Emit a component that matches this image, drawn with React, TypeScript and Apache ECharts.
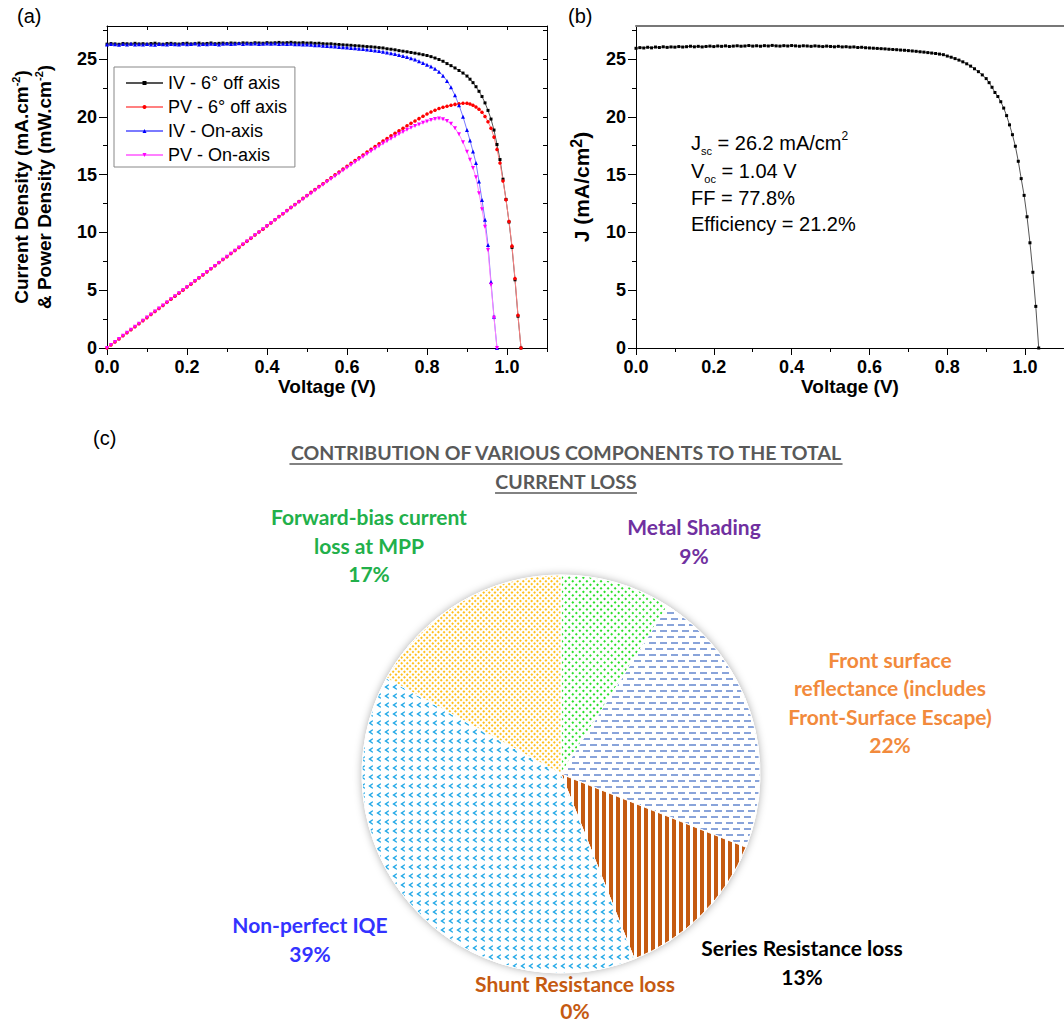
import React, { useEffect, useRef } from "react";
import * as echarts from "echarts";

// ---------------- data ----------------
const voltage = [
  0.0, 0.01, 0.02, 0.03, 0.04, 0.05, 0.06, 0.07, 0.08, 0.09,
  0.1, 0.11, 0.12, 0.13, 0.14, 0.15, 0.16, 0.17, 0.18, 0.19,
  0.2, 0.21, 0.22, 0.23, 0.24, 0.25, 0.26, 0.27, 0.28, 0.29,
  0.3, 0.31, 0.32, 0.33, 0.34, 0.35, 0.36, 0.37, 0.38, 0.39,
  0.4, 0.41, 0.42, 0.43, 0.44, 0.45, 0.46, 0.47, 0.48, 0.49,
  0.5, 0.51, 0.52, 0.53, 0.54, 0.55, 0.56, 0.57, 0.58, 0.59,
  0.6, 0.61, 0.62, 0.63, 0.64, 0.65, 0.66, 0.67, 0.68, 0.69,
  0.7, 0.71, 0.72, 0.73, 0.74, 0.75, 0.76, 0.77, 0.78, 0.79,
  0.8, 0.81, 0.82, 0.83, 0.84, 0.85, 0.86, 0.87, 0.88, 0.89,
  0.9, 0.9075, 0.915, 0.9225, 0.93, 0.9375, 0.945, 0.9525, 0.96, 0.9675,
  0.975, 0.9825, 0.99, 0.9975, 1.005, 1.0125, 1.02, 1.0275, 1.035,
];

const ivOffAxis = [
  26.28, 26.33, 26.3, 26.27, 26.34, 26.31, 26.29, 26.35, 26.3, 26.32,
  26.28, 26.33, 26.36, 26.3, 26.27, 26.33, 26.35, 26.31, 26.29, 26.34,
  26.36, 26.3, 26.33, 26.37, 26.31, 26.34, 26.38, 26.32, 26.35, 26.37,
  26.33, 26.38, 26.36, 26.34, 26.39, 26.37, 26.35, 26.4, 26.38, 26.36,
  26.41, 26.38, 26.4, 26.43, 26.39, 26.41, 26.44, 26.4, 26.38, 26.41,
  26.37, 26.39, 26.35, 26.36, 26.32, 26.3, 26.31, 26.27, 26.25, 26.22,
  26.2, 26.18, 26.15, 26.13, 26.1, 26.07, 26.05, 26.02, 25.98, 25.95,
  25.88, 25.84, 25.79, 25.72, 25.67, 25.62, 25.56, 25.5, 25.44, 25.37,
  25.3, 25.2, 25.08, 24.95, 24.8, 24.6, 24.42, 24.22, 24.0, 23.78,
  23.52, 23.25, 22.95, 22.6, 22.2, 21.75, 21.2, 20.55, 19.8, 18.85,
  17.6, 16.3, 14.6, 12.85, 10.9, 8.7, 5.9, 2.75, 0.0,
];

const pvOffAxis = [
  0, 0.263, 0.527, 0.789, 1.054, 1.316, 1.577, 1.845, 2.104, 2.369,
  2.628, 2.896, 3.163, 3.419, 3.678, 3.95, 4.216, 4.473, 4.732, 5.005,
  5.272, 5.523, 5.793, 6.065, 6.314, 6.585, 6.859, 7.116, 7.386, 7.647,
  7.899, 8.178, 8.436, 8.692, 8.973, 9.23, 9.487, 9.768, 10.024, 10.28,
  10.564, 10.816, 11.088, 11.365, 11.612, 11.885, 12.162, 12.408, 12.662, 12.941,
  13.185, 13.459, 13.702, 13.971, 14.213, 14.465, 14.734, 14.974, 15.225, 15.47,
  15.72, 15.97, 16.21, 16.46, 16.7, 16.95, 17.19, 17.43, 17.67, 17.91,
  18.12, 18.35, 18.57, 18.78, 19.0, 19.22, 19.43, 19.64, 19.84, 20.04,
  20.24, 20.41, 20.57, 20.71, 20.83, 20.91, 21.0, 21.07, 21.12, 21.16,
  21.17, 21.1, 21.0, 20.85, 20.65, 20.39, 20.03, 19.57, 19.01, 18.24,
  17.16, 16.01, 14.45, 12.82, 10.95, 8.81, 6.02, 2.83, 0,
];

const ivOnAxis = [
  26.25, 26.3, 26.27, 26.22, 26.29, 26.26, 26.31, 26.24, 26.28, 26.25,
  26.3, 26.26, 26.23, 26.29, 26.27, 26.24, 26.3, 26.28, 26.25, 26.31,
  26.27, 26.29, 26.33, 26.26, 26.3, 26.28, 26.32, 26.29, 26.26, 26.31,
  26.33, 26.29, 26.32, 26.35, 26.3, 26.33, 26.31, 26.34, 26.3, 26.32,
  26.34, 26.31, 26.33, 26.3, 26.32, 26.29, 26.31, 26.27, 26.28, 26.25,
  26.24, 26.22, 26.19, 26.18, 26.15, 26.12, 26.1, 26.07, 26.04, 26.01,
  25.98, 25.95, 25.92, 25.88, 25.85, 25.81, 25.77, 25.73, 25.68, 25.63,
  25.56, 25.49, 25.42, 25.34, 25.25, 25.16, 25.06, 24.95, 24.8, 24.66,
  24.5, 24.35, 24.15, 23.9, 23.55, 23.1, 22.55, 21.85, 21.0, 20.0,
  18.85, 17.95, 17.0, 16.0, 14.4, 12.8, 11.1, 8.9, 5.7, 2.7,
  0.0,
];

const pvOnAxis = [
  0, 0.263, 0.525, 0.787, 1.052, 1.313, 1.579, 1.837, 2.102, 2.363,
  2.63, 2.889, 3.148, 3.418, 3.678, 3.936, 4.208, 4.468, 4.725, 4.999,
  5.254, 5.521, 5.793, 6.04, 6.312, 6.57, 6.843, 7.098, 7.353, 7.63,
  7.899, 8.15, 8.422, 8.696, 8.942, 9.216, 9.472, 9.746, 9.994, 10.265,
  10.536, 10.787, 11.059, 11.309, 11.581, 11.831, 12.103, 12.347, 12.614, 12.863,
  13.12, 13.37, 13.62, 13.88, 14.12, 14.37, 14.62, 14.86, 15.1, 15.35,
  15.59, 15.83, 16.07, 16.3, 16.54, 16.78, 17.01, 17.24, 17.46, 17.68,
  17.89, 18.1, 18.3, 18.5, 18.69, 18.87, 19.05, 19.21, 19.34, 19.48,
  19.6, 19.72, 19.8, 19.84, 19.78, 19.64, 19.39, 19.01, 18.48, 17.8,
  16.97, 16.29, 15.56, 14.76, 13.39, 12.0, 10.49, 8.48, 5.47, 2.61,
  0,
];

const jCell = [
  25.92, 25.98, 25.95, 26.01, 25.96, 26.03, 25.99, 26.05, 26.0, 26.04,
  26.02, 26.07, 26.03, 26.06, 26.1, 26.05, 26.09, 26.04, 26.08, 26.11,
  26.07, 26.12, 26.09, 26.13, 26.08, 26.11, 26.14, 26.1, 26.12, 26.16,
  26.11, 26.14, 26.1, 26.15, 26.12, 26.17, 26.13, 26.11, 26.15, 26.12,
  26.16, 26.13, 26.1, 26.14, 26.12, 26.09, 26.13, 26.1, 26.07, 26.11,
  26.08, 26.05, 26.09, 26.04, 26.06, 26.02, 26.04, 25.99, 26.01, 25.97,
  25.95, 25.93, 25.91, 25.89, 25.87, 25.84, 25.82, 25.8, 25.77, 25.75,
  25.72, 25.69, 25.66, 25.62, 25.59, 25.55, 25.51, 25.47, 25.42, 25.37,
  25.25, 25.15, 25.03, 24.9, 24.75, 24.58, 24.38, 24.15, 23.9, 23.62,
  23.3, 22.95, 22.55, 22.1, 21.75, 21.3, 20.75, 20.1, 19.3, 18.45,
  17.45, 16.15, 14.65, 13.2, 11.35, 9.1, 6.55, 3.6, 0.0,
];

const legendNames = ["IV - 6\u00b0 off axis", "PV - 6\u00b0 off axis", "IV - On-axis", "PV - On-axis"];

const xMajorTicks = [0, 0.2, 0.4, 0.6, 0.8, 1.0];
const xMinorTicks = [0.1, 0.3, 0.5, 0.7, 0.9, 1.1];
const xAllTicks = [0, 0.1, 0.2, 0.3, 0.4, 0.5, 0.6, 0.7, 0.8, 0.9, 1.0, 1.1];
const yMajorTicks = [0, 5, 10, 15, 20, 25];
const yMinorTicks = [2.5, 7.5, 12.5, 17.5, 22.5, 27.5];
const yAllTicks = [0, 2.5, 5, 7.5, 10, 12.5, 15, 17.5, 20, 22.5, 25, 27.5];

const metricSymbols = ["J", "V", "FF", "Efficiency"];
const metricSubs = ["sc", "oc", "", ""];
const metricValues = ["26.2", "1.04", "77.8", "21.2"];
const metricUnits = [" mA/cm", " V", "%", "%"];
const metricSups = ["2", "", "", ""];

const pieTitleLines = ["CONTRIBUTION OF VARIOUS COMPONENTS TO THE TOTAL", "CURRENT LOSS"];
const lossNames = [
  "Metal Shading",
  "Front surface reflectance (includes Front-Surface Escape)",
  "Series Resistance loss",
  "Shunt Resistance loss",
  "Non-perfect IQE",
  "Forward-bias current loss at MPP",
];
const lossLabelLines = [
  ["Metal Shading"],
  ["Front surface", "reflectance (includes", "Front-Surface Escape)"],
  ["Series Resistance loss"],
  ["Shunt Resistance loss"],
  ["Non-perfect IQE"],
  ["Forward-bias current", "loss at MPP"],
];
const lossPercent = [9, 22, 13, 0, 39, 17];
const lossLabelColors = ["#7030a0", "#f28a3c", "#000000", "#c55a11", "#3333ff", "#22b04a"];

// ---------------- layout / style ----------------
const FONT = '"Liberation Sans", Arial, sans-serif';
const PIE_FONT = 'Lato, "Open Sans", sans-serif';
const PIE_CENTER = [561, 774];
const PIE_RADIUS = 199;
const lossLabelPos = [
  [694, 541],
  [890, 702],
  [802, 962],
  [575, 997],
  [310, 939],
  [369, 545],
];
const lossLabelLineHeight = [28.5, 28.5, 28.5, 27, 28.5, 28.5];
const sliceDecals = [
  { symbol: "rect", symbolSize: 1, dashArrayX: [1.7, 2.3], dashArrayY: [1.7, 2.3], rotation: Math.PI / 4, color: "rgba(20,220,20,0.9)" },
  { symbol: "rect", symbolSize: 1, dashArrayX: [[7, 4], [3, 4, 4, 0]], dashArrayY: [1.7, 3.3], color: "#89a4da" },
  { symbol: "rect", symbolSize: 1, dashArrayX: [4, 3], dashArrayY: [1, 0], color: "#c55a11" },
  { symbol: "rect", symbolSize: 1, dashArrayX: [4, 3], dashArrayY: [1, 0], color: "#c55a11" },
  { symbol: "path://M6,0 L0,4 L6,8 L6,5.8 L3.2,4 L6,2.2 Z", symbolSize: 1, dashArrayX: [4.5, 2.5], dashArrayY: [5.5, 2.5], color: "#22a8e6" },
  { symbol: "rect", symbolSize: 1, dashArrayX: [1.8, 1.3], dashArrayY: [1.8, 1.3], rotation: Math.PI / 4, color: "rgba(255,188,20,0.95)" },
];

const tickLabel = { fontFamily: FONT, fontWeight: "bold" as const, fontSize: 18, color: "#000" };
const blackLine = { show: true, onZero: false, lineStyle: { color: "#000", width: 1 } };

function buildOption() {
  const xAxes: any[] = [];
  const yAxes: any[] = [];
  [0, 1].forEach((g) => {
    xAxes.push({
      type: "value", gridIndex: g, position: "bottom", min: 0, max: 1.1,
      axisLine: blackLine,
      axisTick: { show: true, inside: false, length: 7, customValues: xMajorTicks, lineStyle: { color: "#000" } },
      axisLabel: { show: true, customValues: xMajorTicks, margin: 10, formatter: (v: number) => v.toFixed(1), ...tickLabel },
      splitLine: { show: false },
      name: "Voltage (V)", nameLocation: "middle", nameGap: 29,
      nameTextStyle: { fontFamily: FONT, fontWeight: "bold", fontSize: 19, color: "#000" },
    });
    xAxes.push({
      type: "value", gridIndex: g, position: "bottom", min: 0, max: 1.1,
      axisLine: { show: false },
      axisTick: { show: true, inside: false, length: 4, customValues: xMinorTicks, lineStyle: { color: "#000" } },
      axisLabel: { show: false }, splitLine: { show: false },
    });
    xAxes.push({
      type: "value", gridIndex: g, position: "top", min: 0, max: 1.1,
      axisLine: g === 0 ? blackLine : { show: true, onZero: false, lineStyle: { color: "#777", width: 2 } },
      axisTick: { show: g === 0, inside: true, length: 4, customValues: xAllTicks, lineStyle: { color: "#000" } },
      axisLabel: { show: false }, splitLine: { show: false },
    });
    yAxes.push({
      type: "value", gridIndex: g, position: "left", min: 0, max: 27.85,
      axisLine: blackLine,
      axisTick: { show: true, inside: false, length: 8, customValues: yMajorTicks, lineStyle: { color: "#000" } },
      axisLabel: { show: true, customValues: yMajorTicks, margin: 10, ...tickLabel },
      splitLine: { show: false },
      name: g === 0
        ? "{t|Current Density (mA.cm}{s|-2}{t|)}\n{t|& Power Density (mW.cm}{s|-2}{t|)}"
        : "{t|J (mA/cm}{s|2}{t|)}",
      nameLocation: "middle", nameRotate: 90, nameGap: g === 0 ? 51 : 42,
      nameTextStyle: g === 0
        ? {
            fontFamily: FONT, fontWeight: "bold", fontSize: 19, color: "#000",
            rich: {
              t: { fontFamily: FONT, fontWeight: "bold", fontSize: 19, lineHeight: 23, color: "#000" },
              s: { fontFamily: FONT, fontWeight: "bold", fontSize: 11, lineHeight: 11, verticalAlign: "top", color: "#000" },
            },
          }
        : {
            fontFamily: FONT, fontWeight: "bold", fontSize: 21, color: "#000",
            rich: {
              t: { fontFamily: FONT, fontWeight: "bold", fontSize: 21, lineHeight: 26, color: "#000" },
              s: { fontFamily: FONT, fontWeight: "bold", fontSize: 16, lineHeight: 15, verticalAlign: "top", color: "#000" },
            },
          },
    });
    yAxes.push({
      type: "value", gridIndex: g, position: "left", min: 0, max: 27.85,
      axisLine: { show: false },
      axisTick: { show: true, inside: false, length: 4, customValues: yMinorTicks, lineStyle: { color: "#000" } },
      axisLabel: { show: false }, splitLine: { show: false },
    });
    if (g === 0) {
      yAxes.push({
        type: "value", gridIndex: 0, position: "right", min: 0, max: 27.85,
        axisLine: blackLine,
        axisTick: { show: true, inside: true, length: 4, customValues: yAllTicks, lineStyle: { color: "#000" } },
        axisLabel: { show: false }, splitLine: { show: false },
      });
    }
  });
  // x indices: grid0 main=0, grid1 main=3 ; y indices: grid0 main=0, grid1 main=3

  const triDown = "path://M0,0 L10,0 L5,10 Z";
  const lineSeries = (name: string, values: number[], symbol: string, size: number, color: string, lineColor: string, xi: number, yi: number) => ({
    name, type: "line", xAxisIndex: xi, yAxisIndex: yi,
    data: values.map((v, i) => [voltage[i], v]),
    symbol, symbolSize: size, showSymbol: true,
    itemStyle: { color }, lineStyle: { color: lineColor, width: 1 },
    emphasis: { disabled: true }, silent: true,
  });

  const series: any[] = [
    lineSeries(legendNames[0], ivOffAxis, "rect", 3, "#000000", "#555555", 0, 0),
    lineSeries(legendNames[1], pvOffAxis, "circle", 3.5, "#ff0000", "#ff8080", 0, 0),
    lineSeries(legendNames[2], ivOnAxis, "triangle", 4, "#0000ff", "#7a7aff", 0, 0),
    lineSeries(legendNames[3], pvOnAxis, triDown, 4, "#ff00ff", "#ff80ff", 0, 0),
    lineSeries("J", jCell, "rect", 3, "#000000", "#555555", 3, 3),
    {
      type: "pie", center: PIE_CENTER, radius: PIE_RADIUS, silent: true, z: 1,
      label: { show: false }, labelLine: { show: false },
      data: [{ value: 1, name: "shadow", itemStyle: { color: "#ffffff", shadowBlur: 9, shadowColor: "rgba(0,0,0,0.35)" } }],
    },
    {
      type: "pie", center: PIE_CENTER, radius: PIE_RADIUS, startAngle: 90, clockwise: true, silent: true, z: 2,
      label: { show: false }, labelLine: { show: false }, avoidLabelOverlap: false,
      data: lossNames.map((n, i) => ({
        name: n, value: lossPercent[i],
        itemStyle: { color: "#ffffff", borderColor: "#ffffff", borderWidth: lossPercent[i] === 0 ? 0 : 1, decal: sliceDecals[i] },
      })),
    },
  ];

  // measure title text for underlines
  const TITLE_SIZE = 19.5;
  const ctx = document.createElement("canvas").getContext("2d") as CanvasRenderingContext2D;
  ctx.font = `bold ${TITLE_SIZE}px ${PIE_FONT}`;
  const titleY = [452, 481];
  const graphic: any[] = [
    { type: "text", x: 17, y: 16, style: { text: "(a)", fontFamily: FONT, fontSize: 20, fill: "#000", verticalAlign: "middle" } },
    { type: "text", x: 568, y: 16, style: { text: "(b)", fontFamily: FONT, fontSize: 20, fill: "#000", verticalAlign: "middle" } },
    { type: "text", x: 93, y: 438, style: { text: "(c)", fontFamily: FONT, fontSize: 20, fill: "#000", verticalAlign: "middle" } },
  ];
  const metricY = [143, 171, 198, 224];
  metricSymbols.forEach((s, i) => {
    let txt = `{t|${s}}`;
    if (metricSubs[i]) txt += `{sub|${metricSubs[i]}}`;
    txt += `{t| = ${metricValues[i]}${metricUnits[i]}}`;
    if (metricSups[i]) txt += `{sup|${metricSups[i]}}`;
    graphic.push({
      type: "text", x: 691, y: metricY[i],
      style: {
        text: txt, verticalAlign: "middle", align: "left",
        rich: {
          t: { fontFamily: FONT, fontSize: 20, lineHeight: 26, fill: "#000" },
          sub: { fontFamily: FONT, fontSize: 11, lineHeight: 8, verticalAlign: "bottom", fill: "#000" },
          sup: { fontFamily: FONT, fontSize: 12, lineHeight: 12, verticalAlign: "top", fill: "#000" },
        },
      },
    });
  });
  pieTitleLines.forEach((line, i) => {
    const w = ctx.measureText(line).width;
    graphic.push({
      type: "text", x: 566, y: titleY[i],
      style: { text: line, fontFamily: PIE_FONT, fontWeight: "bold", fontSize: TITLE_SIZE, fill: "#595959", align: "center", verticalAlign: "middle" },
    });
    graphic.push({
      type: "line", shape: { x1: 566 - w / 2, y1: titleY[i] + 12, x2: 566 + w / 2, y2: titleY[i] + 12 },
      style: { stroke: "#595959", lineWidth: 1.5 },
    });
  });
  lossLabelLines.forEach((lines, i) => {
    graphic.push({
      type: "text", x: lossLabelPos[i][0], y: lossLabelPos[i][1],
      style: {
        text: [...lines, `${lossPercent[i]}%`].join("\n"),
        fontFamily: PIE_FONT, fontWeight: "bold", fontSize: 21, lineHeight: lossLabelLineHeight[i],
        fill: lossLabelColors[i], align: "center", verticalAlign: "middle",
      },
    });
  });

  return {
    animation: false,
    backgroundColor: "#ffffff",
    grid: [
      { left: 107, top: 26, width: 440, height: 322 },
      { left: 636, top: 26, width: 440, height: 322 },
    ],
    xAxis: xAxes,
    yAxis: yAxes,
    legend: {
      data: legendNames, left: 114, top: 67, orient: "vertical",
      itemWidth: 37, itemHeight: 5, itemGap: 6, padding: [7, 8, 3, 11],
      borderColor: "#888", borderWidth: 1, backgroundColor: "#fff",
      textStyle: { fontFamily: FONT, fontSize: 18, color: "#000" },
      selectedMode: false,
    },
    series,
    graphic,
  };
}

export default function App() {
  const ref = useRef<HTMLDivElement>(null);
  useEffect(() => {
    if (!ref.current) return;
    const chart = echarts.init(ref.current, null, { renderer: "svg" });
    chart.setOption(buildOption() as any);
    return () => chart.dispose();
  }, []);
  return (
    <div
      ref={ref}
      style={{ position: "absolute", left: 0, top: 0, width: 1064, height: 1022, background: "#fff" }}
    />
  );
}
